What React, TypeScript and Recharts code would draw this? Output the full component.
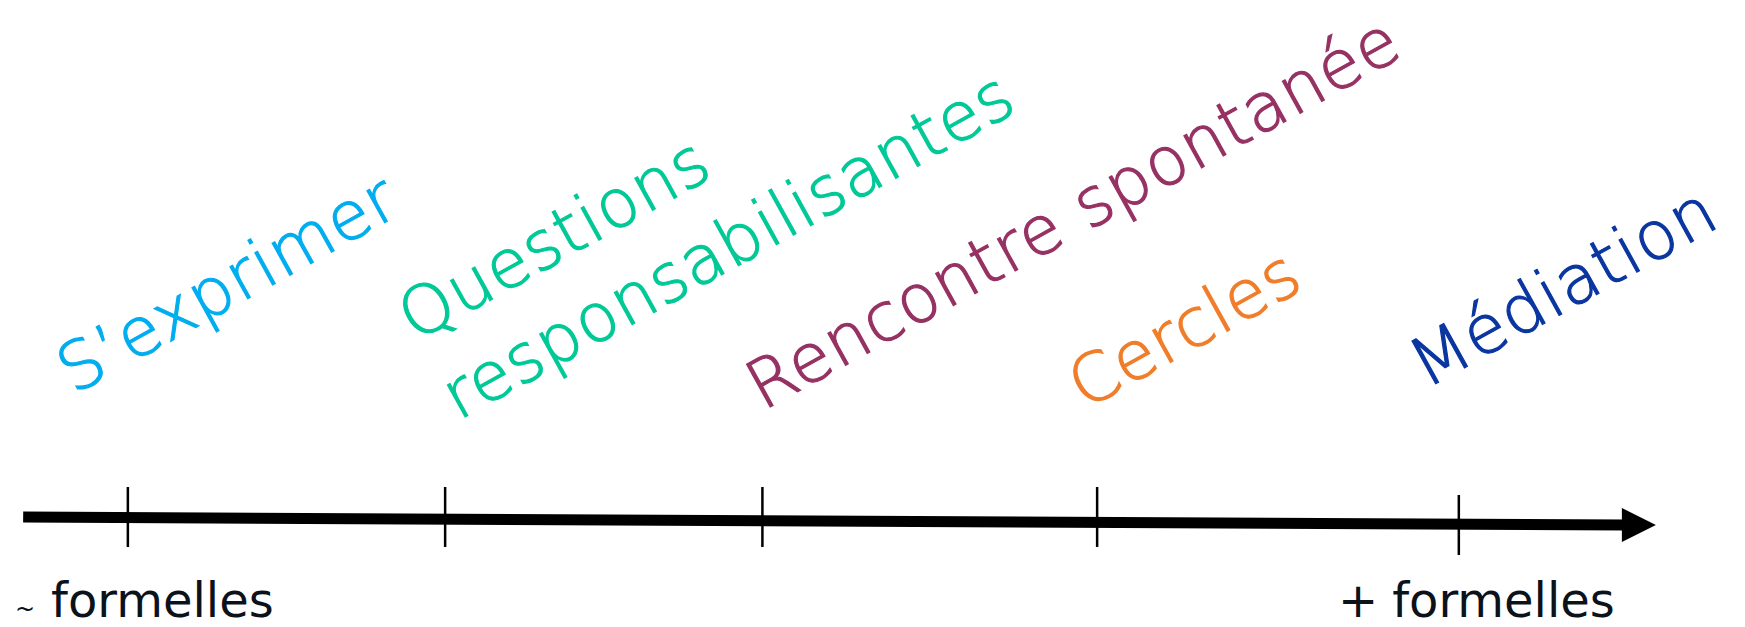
import {
  ComposedChart,
  Line,
  Scatter,
  XAxis,
  YAxis,
  ReferenceLine,
} from 'recharts';

// ── Data ──────────────────────────────────────────────────────────────────────

// positions along the "formality" axis (left = less formal)
const tickX = [0, 1, 2, 3.055, 4.195];
const tickTop = [0.3, 0.3, 0.3, 0.3, 0.22];
const tickBottom = [-0.3, -0.3, -0.3, -0.3, -0.38];

const axisX = [-0.33, 4.72];
const axisY = [0, -0.08];
const arrowTipX = [4.816];
const arrowTipY = [-0.08];

const practices = [
  'S’exprimer',
  'Questions\nresponsabilisantes',
  'Rencontre spontanée',
  'Cercles',
  'Médiation',
];
const practiceX = [-0.17, 0.905, 2.002, 3.017, 4.092];
const practiceY = [1.22, 1.75, 1.06, 1.07, 1.28];
const practiceColors = ['#00AEEF', '#00C997', '#963263', '#F07D2A', '#0A36A0'];

const endSigns = ['~', '+'];
const endWord = 'formelles';
const endX = [-0.356, 3.814];
const endY = [-0.995, -0.995];

// ── Series built from the arrays ───────────────────────────────────────────────

const axisData = axisX.map((x, i) => ({ x, y: axisY[i] }));
const tipData = arrowTipX.map((x, i) => ({ x, y: arrowTipY[i] }));
const practiceData = practices.map((name, i) => ({
  x: practiceX[i],
  y: practiceY[i],
  name,
  color: practiceColors[i],
}));
const endData = endSigns.map((sign, i) => ({ x: endX[i], y: endY[i], sign }));

const FONT = '"DejaVu Sans", sans-serif';

// ── Shapes ────────────────────────────────────────────────────────────────────

function ArrowHead({ cx, cy }: any) {
  return <path d={`M${cx},${cy} L${cx - 34},${cy - 17} L${cx - 34},${cy + 17} Z`} fill="#000" />;
}

function PracticeLabel({ cx, cy, payload }: any) {
  const lines = String(payload.name).split('\n');
  return (
    <text
      x={cx}
      y={cy}
      transform={`rotate(-29 ${cx} ${cy})`}
      fill={payload.color}
      stroke={payload.color}
      strokeWidth={1.2}
      fontFamily={FONT}
      fontWeight={200}
      fontSize={67}
      letterSpacing={1}
    >
      {lines.map((l, i) => (
        <tspan key={i} x={cx} dy={i === 0 ? 0 : 90}>{l}</tspan>
      ))}
    </text>
  );
}

function EndLabel({ cx, cy, payload }: any) {
  const small = payload.sign === '~';
  return (
    <text x={cx} y={cy} fill="#0B1219" fontFamily={FONT} fontSize={48}>
      <tspan fontSize={small ? 24 : 48}>{payload.sign}</tspan>
      <tspan dx={small ? 16 : 14}>{endWord}</tspan>
    </text>
  );
}

// ── Chart ─────────────────────────────────────────────────────────────────────

export default function App() {
  return (
    <div style={{ position: 'absolute', left: 0, top: 0, background: '#fff' }}>
      <ComposedChart width={1745} height={627} margin={{ top: 0, right: 0, bottom: 0, left: 0 }}>
        <XAxis type="number" dataKey="x" domain={[-0.403, 5.097]} hide allowDataOverflow />
        <YAxis type="number" dataKey="y" domain={[-1.1, 5.17]} hide allowDataOverflow />

        <Line
          data={axisData}
          dataKey="y"
          type="linear"
          stroke="#000"
          strokeWidth={11}
          dot={false}
          activeDot={false}
          isAnimationActive={false}
        />
        <Scatter data={tipData} shape={<ArrowHead />} isAnimationActive={false} />

        {tickX.map((x, i) => (
          <ReferenceLine
            key={i}
            segment={[{ x, y: tickTop[i] }, { x, y: tickBottom[i] }]}
            stroke="#000"
            strokeWidth={2.5}
            ifOverflow="visible"
          />
        ))}

        <Scatter data={practiceData} shape={<PracticeLabel />} isAnimationActive={false} />
        <Scatter data={endData} shape={<EndLabel />} isAnimationActive={false} />
      </ComposedChart>
    </div>
  );
}
